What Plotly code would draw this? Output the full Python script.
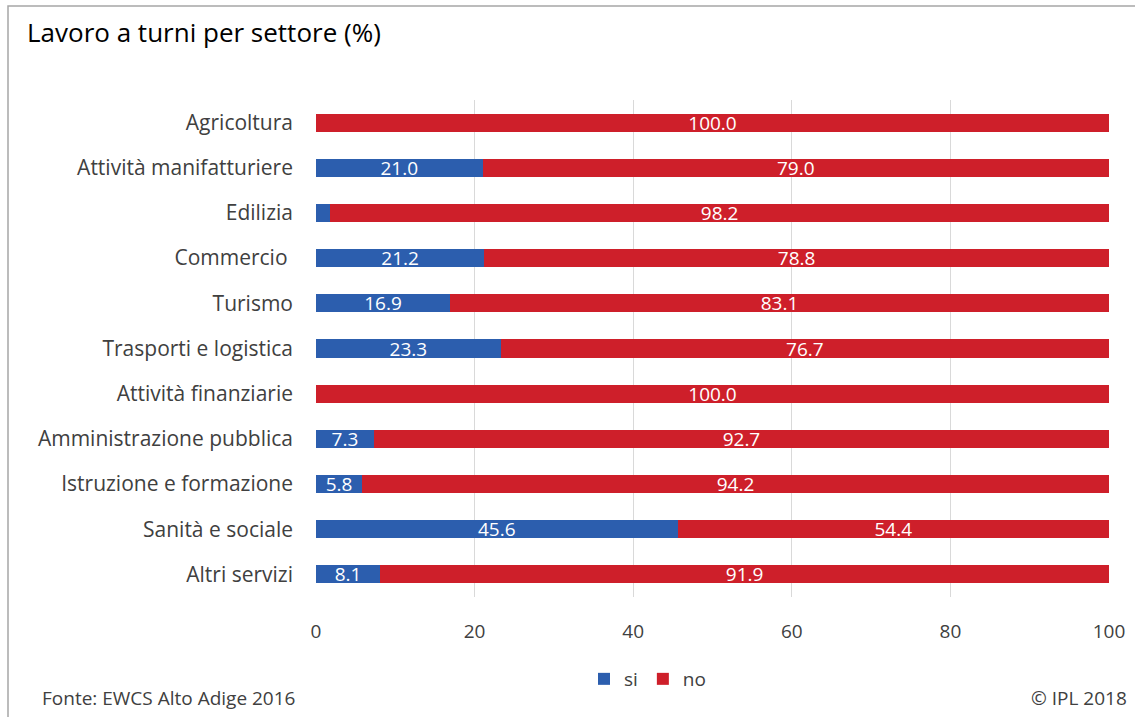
import plotly.graph_objects as go

categories = ["Agricoltura", "Attività manifatturiere", "Edilizia", "Commercio ", "Turismo",
              "Trasporti e logistica", "Attività finanziarie", "Amministrazione pubblica",
              "Istruzione e formazione", "Sanità e sociale", "Altri servizi"]
si_values = [0, 21.0, 1.8, 21.2, 16.9, 23.3, 0, 7.3, 5.8, 45.6, 8.1]
no_values = [100.0, 79.0, 98.2, 78.8, 83.1, 76.7, 100.0, 92.7, 94.2, 54.4, 91.9]
x_ticks = [0, 20, 40, 60, 80, 100]

BLUE = "#2C5EAE"
RED = "#CE1F2A"
FONT = "Open Sans"

def lab(v):
    return f"{v:.1f}" if v >= 3 else ""

fig = go.Figure()
for name, vals, col in (("si", si_values, BLUE), ("no", no_values, RED)):
    fig.add_trace(go.Bar(y=categories, x=vals, orientation="h", name=name,
                         marker=dict(color=col, line=dict(width=0)),
                         text=[lab(v) for v in vals], textposition="inside",
                         insidetextanchor="middle", constraintext="none",
                         textfont=dict(color="white", size=19, family=FONT),
                         hoverinfo="skip", cliponaxis=False))

W, H = 1135, 717
L, R, T, B = 316, 26, 100, 120
pw, ph = W - L - R, H - T - B

def px(x):
    return (x - L) / pw

def py(y):
    return (H - B - y) / ph

fig.update_layout(
    width=W, height=H,
    barmode="stack", bargap=0.6,
    margin=dict(l=L, r=R, t=T, b=B, autoexpand=False),
    paper_bgcolor="white", plot_bgcolor="white",
    font=dict(family=FONT, color="#404040", size=18),
    showlegend=True,
    legend=dict(orientation="h", x=px(584), y=py(679), xanchor="left", yanchor="middle",
                font=dict(size=19, color="#404040", family=FONT),
                itemwidth=30, traceorder="normal", bgcolor="rgba(0,0,0,0)"),
    xaxis=dict(range=[0, 100], tickvals=x_ticks, showgrid=True, gridcolor="#D9D9D9",
               gridwidth=1, zeroline=False, showline=False, ticks="",
               ticklabelstandoff=21, tickfont=dict(size=19, color="#404040"),
               fixedrange=True),
    yaxis=dict(autorange="reversed", showgrid=False, zeroline=False, showline=False,
               ticks="", ticklabelstandoff=22, tickfont=dict(size=21, color="#404040"),
               fixedrange=True),
    uniformtext=dict(mode="show", minsize=19),
)

fig.add_annotation(text="Lavoro a turni per settore (%)", xref="paper", yref="paper",
                   x=px(25), y=py(32), xanchor="left", yanchor="middle", showarrow=False,
                   font=dict(size=26, color="#000000", family=FONT))
fig.add_annotation(text="Fonte: EWCS Alto Adige 2016", xref="paper", yref="paper",
                   x=px(40), y=py(698), xanchor="left", yanchor="middle", showarrow=False,
                   font=dict(size=19, color="#404040", family=FONT))
fig.add_annotation(text="© IPL 2018", xref="paper", yref="paper",
                   x=px(1129), y=py(698), xanchor="right", yanchor="middle", showarrow=False,
                   font=dict(size=19, color="#404040", family=FONT))

fig.add_shape(type="path", xref="paper", yref="paper",
              path=f"M {px(8)} {py(717)} L {px(8)} {py(6)} L {px(1135)} {py(6)}",
              line=dict(color="#A6A6A6", width=1.5))

fig.write_html("out.html")
